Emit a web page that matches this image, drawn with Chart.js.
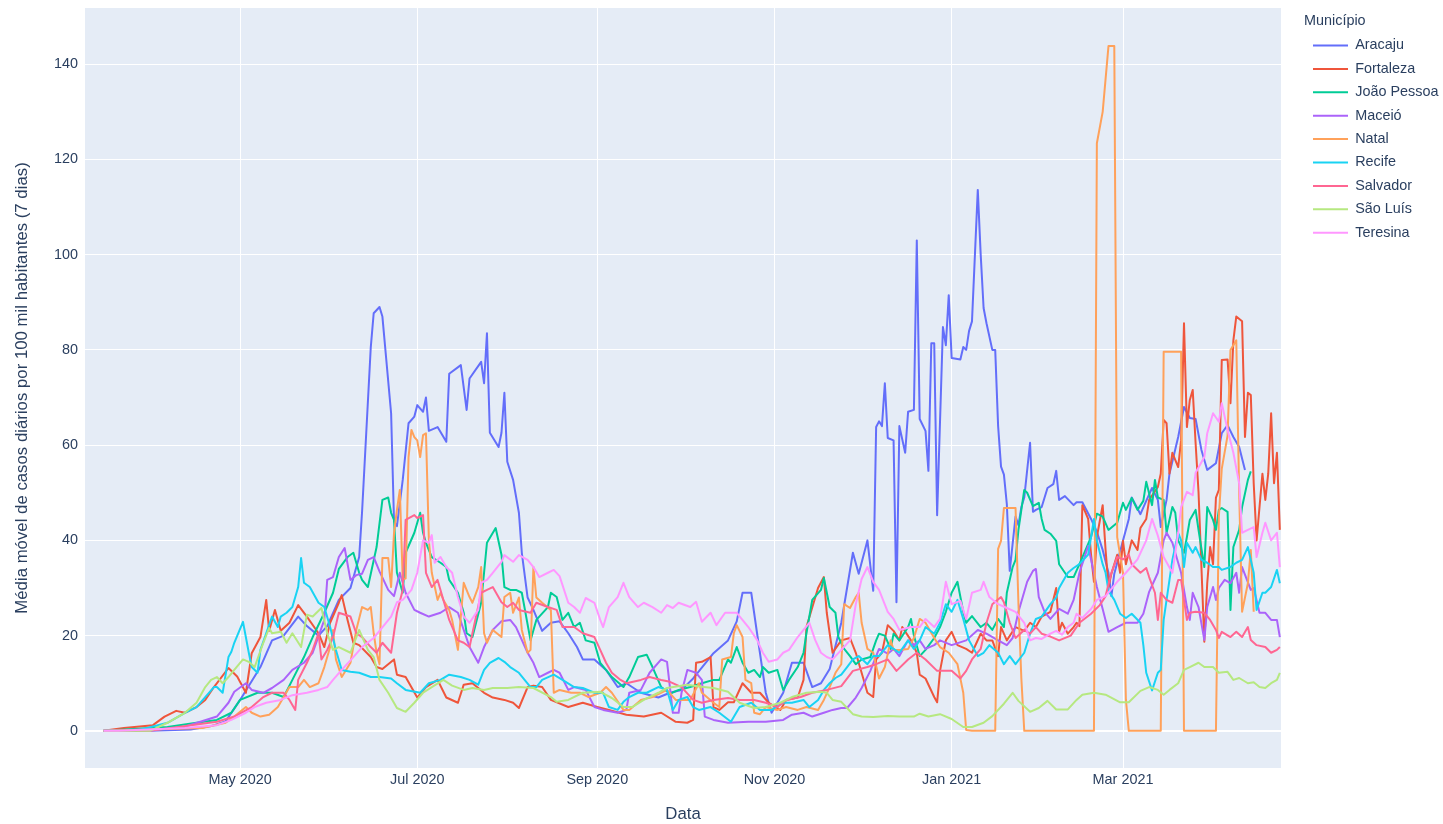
<!DOCTYPE html>
<html>
<head>
<meta charset="utf-8">
<script src="https://cdn.jsdelivr.net/npm/chart.js@4.4.1/dist/chart.umd.min.js"></script>
<style>
  html, body { margin: 0; padding: 0; background: #fff; }
</style>
</head>
<body>
<canvas id="grafico" width="1443" height="824"></canvas>
<script>
// dias contados a partir de 2020-03-01 (dia 0)
const tickDays = [61, 122, 184, 245, 306, 365];
const tickLabels = ['May 2020', 'Jul 2020', 'Sep 2020', 'Nov 2020', 'Jan 2021', 'Mar 2021'];
const yTicks = [0, 20, 40, 60, 80, 100, 120, 140];

const municipios = ['Aracaju', 'Fortaleza', 'João Pessoa', 'Maceió', 'Natal', 'Recife', 'Salvador', 'São Luís', 'Teresina'];
const cores = ['#636efa', '#EF553B', '#00cc96', '#ab63fa', '#FFA15A', '#19d3f3', '#FF6692', '#B6E880', '#FF97FF'];

// [dia, média móvel 7 dias por 100 mil hab.]
const aracaju = [[14,0],[30,0],[44,0.3],[51,1],[56,2],[61,6.5],[68,13.4],[72,19],[76,20],[81,24],[84,22],[88,20],[91,22],[95,27.5],[99,30],[102,36.5],[103,46],[106,80.6],[107,87.7],[109,89],[110,87],[113,66.7],[114,44],[115,43],[117,52.7],[119,64.6],[121,66],[122,68.4],[124,67],[125,70],[126,63],[129,63.8],[132,60.7],[133,75],[137,76.8],[139,67.4],[140,74],[144,77.5],[145,73],[146,83.5],[147,62.6],[150,59.6],[151,62.6],[152,71],[153,56.5],[155,52.7],[157,45.8],[158,37.4],[160,28],[162,25.4],[165,21],[168,22.7],[171,23],[174,20.5],[177,17.6],[179,15],[183,15],[187,12.8],[191,9.2],[194,10],[199,8],[205,7],[209,8],[213,8.6],[217,11],[224,16.3],[229,19],[232,23],[234,29],[237,29],[239,20.5],[242,8],[244,3.8],[248,8],[251,14.3],[255,14.3],[258,9.2],[261,10],[264,13],[268,22.7],[272,37.4],[274,33],[277,40],[279,29.4],[280,63.8],[281,65],[282,64],[283,73],[284,61.5],[286,61],[287,27],[288,64],[290,58.4],[291,67],[293,67.4],[294,103],[295,65.5],[297,63],[298,54.6],[299,81.4],[300,81.4],[301,45.3],[303,84.8],[304,81],[305,91.5],[306,78.3],[309,78],[310,80.6],[311,80],[312,84],[313,86],[315,113.6],[316,100],[317,88.8],[318,85.6],[320,80],[321,80],[322,64],[323,55.5],[324,53.8],[325,47.6],[326,33.6],[328,45],[329,43.2],[330,47],[331,49],[333,60.5],[334,46],[335,46.4],[337,47],[339,51],[341,51.8],[342,54.6],[343,48.5],[345,49.3],[348,47.4],[349,48],[351,48],[354,44.5],[356,41.8],[358,38],[360,33.2],[361,28.3],[362,33],[365,40],[367,44.5],[368,49],[371,45.5],[373,48.3],[375,51],[377,48.5],[378,42.8],[380,48.5],[381,54],[384,61.7],[386,68],[388,65.7],[390,65.5],[392,59],[394,54.8],[397,56.2],[399,62.5],[401,64.2],[403,61.7],[405,59.6],[407,54.8]];

const fortaleza = [[14,0],[21,0.6],[31,1.2],[35,3],[39,4.2],[42,3.8],[46,5],[49,6.5],[52,9.2],[57,13.2],[60,11.4],[63,8],[65,16.3],[68,19.7],[70,27.5],[71,21],[73,25.4],[75,21],[78,22.7],[81,26.4],[84,24],[88,20.5],[90,17.6],[92,22.7],[95,26.9],[96,28.5],[98,23.3],[100,18.5],[102,18],[106,15.5],[108,13.4],[110,13],[114,15],[115,11.8],[118,11.3],[122,7],[125,9.2],[129,10.7],[132,7],[136,5.9],[138,9.7],[141,10],[145,8],[148,7],[152,6.5],[155,5.9],[157,4.8],[160,9.2],[162,9.5],[165,9.2],[168,6.5],[174,5],[179,5.9],[184,5],[188,4.4],[194,3.4],[200,3],[206,3.8],[211,1.9],[215,1.7],[217,2.3],[218,14.3],[220,14.5],[223,15.5],[224,5],[226,4.4],[229,6],[231,6],[234,10],[237,8],[240,8],[243,5.9],[247,4.4],[249,6.5],[253,7],[255,10.7],[256,21.8],[260,30],[262,32.3],[263,24.8],[264,20.5],[265,16.4],[268,19],[271,19.5],[273,16.4],[277,8],[279,7.1],[280,15],[282,16.4],[284,22.2],[286,21],[288,19],[289,21.8],[292,19],[294,16.4],[295,11.8],[297,11],[300,7.1],[301,6],[302,12.6],[304,19],[306,20.8],[308,18],[311,17.2],[313,16.4],[316,20.4],[318,19],[320,19],[322,15.7],[323,21.8],[325,19],[328,21.8],[331,21],[333,22.7],[335,21.8],[337,24],[340,25],[342,30],[343,20.8],[344,22.7],[346,20.4],[348,21.8],[349,22.7],[350,22],[351,47.4],[353,44.5],[354,37],[355,31.3],[356,40.7],[358,47.4],[359,38],[360,30.2],[361,33],[363,37],[364,33.2],[365,39.9],[366,35],[368,40],[370,38],[371,42.6],[373,44.5],[374,48.5],[377,51.2],[378,54],[379,65.3],[380,64.6],[381,54],[382,58.4],[384,55.4],[385,61],[386,85.6],[387,63.8],[388,69.5],[389,71.6],[390,60.4],[391,50.2],[392,34.4],[393,18.7],[394,31],[395,38.6],[396,35],[397,49],[398,50.6],[399,77.9],[401,78],[402,68.8],[403,82],[404,87],[406,86],[407,61.7],[408,71],[409,70.5],[410,52],[411,40],[413,54],[414,48.5],[415,54],[416,66.7],[417,52],[418,58.4],[419,42.2]];

const joaoPessoa = [[14,0],[36,0.8],[46,1.7],[53,2.3],[58,3.8],[61,6.5],[67,8],[72,8],[76,7.1],[79,10.7],[83,15.5],[86,19.7],[90,24.8],[93,29],[95,34],[98,36.5],[100,37.4],[102,33.2],[103,31.7],[105,30.2],[106,33],[108,38.6],[110,48.5],[112,49],[113,45.8],[114,44.3],[115,33.2],[117,29],[118,37.4],[121,41.6],[123,45.8],[124,41.6],[125,39.5],[127,36.5],[130,35.3],[132,34.4],[133,31.7],[136,29],[138,24.8],[139,20.5],[141,19.7],[144,26.9],[146,39.5],[149,42.6],[151,37],[152,30.2],[154,29.6],[156,29.6],[158,29],[161,19],[163,23.3],[167,26],[168,29],[170,28.1],[172,23.3],[174,24.8],[176,21.8],[178,22.7],[180,19],[183,18.5],[185,14.3],[187,12.8],[189,11.3],[193,9.2],[195,11.3],[198,15.5],[201,16],[203,13.4],[206,9.2],[209,7.8],[212,8.6],[216,9.2],[220,10],[224,10.7],[226,10.7],[229,15],[230,14.3],[232,17.6],[234,14.3],[236,12.2],[238,12.8],[240,11.3],[241,13.4],[243,12.2],[246,12.8],[248,8.6],[250,10.7],[253,13.4],[255,16.4],[256,20.5],[258,27.5],[261,29.6],[262,32.1],[264,26],[266,24.8],[267,19.7],[269,17.2],[271,15.7],[273,14],[275,15],[278,15.5],[280,19],[281,20.4],[283,20],[285,17.2],[286,20.4],[288,19],[291,21.8],[292,23.5],[293,20],[295,15.7],[297,17],[300,19.5],[302,21.8],[304,25],[306,29],[308,31.3],[310,25],[311,22.7],[313,24.1],[316,21.8],[318,22.7],[320,21.2],[322,23.5],[324,21.8],[325,29],[327,34.4],[328,35.9],[329,42.2],[331,50.6],[332,50],[334,47.2],[336,47.9],[337,44.5],[338,42.2],[340,41.4],[342,39.9],[343,35],[346,32.3],[348,32.3],[350,35],[354,40.7],[356,45.6],[358,45],[360,42.2],[363,43.7],[365,47.9],[366,46.4],[368,48.9],[370,46.4],[372,48.3],[373,52.3],[375,47.4],[376,52.7],[377,49],[379,48.5],[380,41.6],[382,47],[383,45.8],[384,40],[386,37.4],[387,40.7],[388,44.3],[390,46.4],[391,42.2],[393,34.4],[394,47],[396,44.3],[397,42.2],[398,46.4],[399,46.8],[401,46],[402,25.4],[403,38.6],[405,42.2],[406,47],[408,52.7],[409,54.5]];

const maceio = [[14,0],[40,0.5],[53,3],[57,5.9],[59,8.2],[63,10],[65,8.6],[69,8],[72,9],[76,10.7],[79,12.8],[83,14.3],[86,16.4],[90,23.3],[91,31.7],[93,32.3],[95,36.5],[97,38.4],[99,31.7],[101,32.7],[103,33],[105,35.9],[107,36.5],[109,33.5],[112,29.6],[114,28.3],[116,33.2],[118,29],[121,25.4],[123,24.8],[126,24],[130,24.8],[133,26],[136,24.8],[138,21.2],[140,17.6],[143,14.3],[145,17.6],[148,21.2],[151,23],[154,23.3],[156,21.8],[160,16.4],[162,14.3],[164,11.3],[167,12.2],[169,12.8],[171,12.2],[174,8.6],[176,9.2],[180,8.6],[183,5],[186,4.4],[191,3.8],[194,4.4],[195,8],[199,8.6],[202,12.2],[206,15],[208,14.5],[210,3.8],[212,3.8],[213,8],[215,12.8],[218,12.2],[220,10.7],[221,3],[224,2.3],[229,1.7],[236,1.9],[242,1.9],[248,2.3],[251,3.4],[255,3.8],[258,3],[262,3.8],[265,4.4],[268,4.8],[270,4.8],[273,7],[275,9],[278,12.6],[280,15.7],[281,17.2],[284,16.2],[286,17.2],[288,15.7],[291,19],[293,18],[295,19],[297,17.2],[300,18],[302,19],[306,18],[311,19],[315,21.2],[318,20.4],[322,19],[325,18],[327,19.5],[329,25],[332,31.3],[334,33.6],[335,34],[336,28.1],[338,25],[340,23.5],[343,25.6],[346,24.6],[348,27.5],[350,33.2],[353,38.8],[354,36],[356,30.2],[358,25.6],[360,20.8],[363,21.8],[366,22.7],[370,22.7],[372,24.6],[374,29.2],[377,33.2],[379,40],[380,41.6],[382,39.5],[384,35.3],[385,33.2],[387,26],[388,23.3],[389,29],[391,26],[393,19.1],[394,26],[396,30.2],[397,27.5],[398,30],[400,31.7],[402,31],[404,33.2],[405,29],[406,34.4],[409,29.6],[410,30],[412,24.8],[414,24.8],[416,23.3],[418,23.3],[419,19.7]];

const natal = [[14,0],[48,0.6],[56,1.7],[59,3],[63,5],[65,3.8],[68,3],[71,3.4],[74,5],[76,7.1],[78,9.2],[81,9.2],[83,10.7],[85,9.2],[88,10],[90,13.4],[92,17.6],[93,21.2],[94,15],[96,11.3],[99,14.3],[101,21.2],[103,26],[105,25.4],[106,26],[107,20.5],[108,16.4],[109,14],[110,36.3],[112,36.3],[113,30.2],[114,41.6],[115,46.4],[116,50.6],[117,31.7],[118,32],[119,57.5],[120,63.2],[121,61.7],[122,61],[123,57.5],[124,62.1],[125,62.5],[126,40],[127,33.2],[129,27.5],[130,29],[131,27.5],[133,25.4],[134,23.3],[136,17],[138,31.1],[140,28.1],[141,26.9],[143,30.2],[144,34.4],[145,20.5],[146,18.5],[148,21.2],[151,19.7],[152,28.1],[154,29],[155,24.8],[157,28],[158,21.2],[160,16.4],[161,17],[162,34.4],[163,28],[165,26.9],[168,25.4],[169,8],[171,8.6],[175,8],[178,8],[181,7.1],[185,8],[187,9.2],[189,8],[193,4.4],[195,4.4],[199,6.5],[203,7.1],[208,8.6],[211,6.5],[216,6.5],[219,10],[220,8],[224,5.9],[226,5],[227,15],[230,15.5],[231,20.5],[232,22.2],[234,19.7],[235,10.7],[237,10],[238,3.8],[240,3.5],[242,5],[246,4.4],[249,5],[253,4.4],[256,5],[260,4.4],[262,6.5],[264,9.2],[266,12.2],[268,14],[269,26.6],[271,25.8],[273,28.1],[274,29],[275,22.7],[277,17.2],[279,16.4],[281,11],[283,13.4],[285,19],[286,17],[288,17],[291,17.2],[293,19.5],[295,23.5],[297,22.7],[300,19.5],[302,17.6],[305,16.4],[308,14],[310,8],[311,0.2],[313,0],[321,0],[322,38.2],[323,39.9],[324,46.8],[328,46.8],[329,26.6],[330,11],[331,0],[355,0],[356,123.4],[358,130],[360,143.8],[362,143.8],[363,40.7],[365,33.2],[366,6.5],[367,0],[378,0],[379,79.6],[385,79.6],[386,0],[397,0],[398,45],[399,55],[401,62],[402,80],[404,82],[405,50],[406,25],[408,31],[409,38],[410,25]];

const recife = [[14,0],[25,0],[36,1.7],[42,3.8],[46,5],[49,7.1],[52,9.2],[53,9.2],[55,8],[57,15.5],[58,16.6],[59,18.5],[62,22.9],[64,16.4],[65,13.4],[67,12.2],[68,17],[70,20.5],[72,24],[74,21.8],[75,24],[77,24.8],[79,26],[81,30.2],[82,36.3],[83,31.1],[85,30.2],[88,26.9],[90,26],[92,21.8],[94,17],[96,12.8],[99,12.4],[102,12.2],[106,11.3],[109,11.3],[113,11],[115,10],[118,8.6],[123,8],[126,10],[130,10.7],[133,11.8],[137,11.3],[140,10.7],[143,9.7],[145,12.8],[147,14.3],[150,15.3],[152,14.5],[154,13.4],[157,12.2],[161,9.2],[163,9.2],[165,10.7],[169,11.8],[172,10.7],[176,9.2],[179,9],[183,8],[186,8],[188,5],[191,4.4],[193,6.1],[195,7.1],[198,8],[201,8],[205,9.2],[208,8.6],[210,4.4],[212,6.5],[215,7.1],[217,5],[219,4.4],[223,5],[226,3.8],[230,1.9],[233,5],[237,5.9],[240,4.4],[244,4.4],[248,5.9],[251,5.9],[255,6.5],[257,5],[260,6.5],[262,8.6],[264,10],[266,11.1],[268,11.8],[270,13.4],[272,15],[274,15.7],[277,14],[279,15.7],[281,15.7],[284,18],[286,17.2],[288,16.4],[291,19],[293,17.2],[295,19],[297,21.8],[300,20.4],[302,22.7],[304,26.6],[306,25],[308,27.5],[310,23.5],[312,19],[315,15.7],[317,16.4],[319,18],[322,16.4],[324,14],[326,15.7],[328,14],[331,16.4],[333,20.4],[335,23.5],[337,24],[340,26.6],[342,28],[343,30],[346,33.2],[348,34.2],[350,35],[353,37],[354,40.7],[355,44.5],[356,40],[358,35],[359,33.2],[360,29.4],[362,27.5],[364,24.6],[366,23.7],[368,24.6],[371,22.7],[372,18],[373,12.2],[375,8.5],[377,12.2],[378,12.8],[379,23.3],[381,31.7],[382,35.9],[384,41.6],[385,40],[386,34.4],[387,39.5],[389,37.4],[390,38.6],[392,35.9],[394,35.3],[396,34.4],[398,34.4],[399,33.8],[402,34.4],[404,35.3],[406,35.9],[408,38.6],[410,33.2],[411,25.4],[413,29],[414,29],[416,30.2],[418,33.8],[419,31]];

const salvador = [[14,0],[30,0],[53,1.9],[59,3],[65,5],[69,7.1],[72,8],[76,8],[78,6.5],[80,4.4],[81,10.7],[84,14.3],[86,17],[88,20.5],[89,15],[91,17],[93,19.7],[95,24.8],[99,24],[101,20.5],[103,19.7],[106,17.6],[108,16.4],[110,18.5],[113,16.4],[115,24.8],[117,29.6],[118,44.3],[121,45.3],[122,44.7],[124,45.3],[125,33.2],[127,30.2],[129,31.7],[131,27.5],[133,23.3],[136,19],[138,18.5],[140,17.6],[141,20.5],[144,29],[146,29.6],[148,30.2],[151,27],[153,26],[155,26.9],[157,25.4],[161,24.8],[163,26.9],[167,26],[170,25.4],[172,21.8],[176,21.8],[179,20.5],[183,19.7],[185,17],[187,14.3],[189,12.2],[192,10.7],[194,10],[199,10.7],[202,11.3],[206,10.7],[209,10.3],[213,9.2],[217,6.5],[220,5.9],[224,6.5],[229,6.9],[233,6.5],[238,6.5],[242,5.9],[246,5],[249,6.5],[254,7.1],[258,8],[263,8.6],[268,9.4],[272,12.6],[277,13.4],[280,14],[284,15],[287,12.6],[291,15],[294,16.4],[297,15],[301,12.6],[304,12.6],[306,12.6],[309,11],[311,12.6],[313,15],[316,17.2],[318,22.7],[320,26.6],[323,28.1],[324,27],[326,22.7],[328,19.5],[331,21.2],[333,20.4],[335,21.8],[337,20.4],[340,19.8],[343,19],[347,20],[350,22.7],[354,24.6],[357,26.4],[359,28.3],[361,33.2],[363,36.5],[365,36],[367,37],[368,35],[371,33.2],[373,34.2],[374,32.3],[376,29],[377,23.3],[378,29],[380,27.5],[382,26.9],[384,31.7],[385,31.7],[386,27.5],[387,23.3],[388,24.8],[390,25],[393,24.8],[395,23.3],[397,21.2],[398,19.5],[399,20.8],[402,19.7],[404,20.8],[406,19.7],[408,21.8],[409,19.1],[411,18],[414,17.6],[416,16.4],[418,17],[419,17.6]];

const saoLuis = [[14,0],[30,0],[36,1.7],[42,3.8],[46,5.9],[49,9.2],[51,10.7],[53,11.3],[55,10],[57,11.3],[59,12.8],[62,15],[64,14.5],[66,13.4],[69,18.5],[71,21.6],[72,20.5],[75,20.8],[77,18.5],[79,20.5],[82,17.6],[84,24.4],[86,24],[89,25.8],[91,20.5],[93,17],[95,17.6],[99,16.4],[102,21.2],[105,17],[107,15.5],[109,10.7],[112,8],[115,4.8],[118,4],[121,5.9],[124,8],[127,9.2],[131,10.7],[134,9.5],[138,8.6],[141,9],[145,8.6],[148,9],[153,9],[157,9.2],[162,9],[168,7.1],[170,6.1],[174,6.5],[179,8],[185,8.2],[189,6.9],[193,5],[196,5],[200,6.5],[205,8],[208,9],[215,9.7],[219,9.3],[224,9],[229,8.2],[233,5.9],[238,4.8],[242,5],[247,5.9],[251,7.1],[256,8],[261,8.2],[263,8],[265,6.5],[268,6.1],[270,4.8],[272,3.5],[275,3],[279,2.9],[284,3.1],[288,3],[293,3],[295,3.6],[298,3],[302,3.5],[306,2.5],[310,0.8],[313,0.8],[317,1.7],[320,3.1],[324,5.7],[327,8],[329,6.3],[333,4],[336,4.8],[339,6.3],[342,4.5],[346,4.5],[349,6.5],[351,7.6],[355,8],[359,7.6],[364,6],[367,6],[371,8.4],[374,9.2],[377,8.6],[379,7.6],[381,8.6],[384,10],[386,12.8],[388,13.4],[391,14.3],[393,13.4],[396,13.4],[398,12.2],[401,12.4],[403,10.7],[405,11.1],[408,10],[410,10.2],[412,9.2],[414,9],[416,10],[418,10.7],[419,12.2]];

const teresina = [[14,0],[19,0],[42,0.6],[53,1.2],[58,2.3],[63,3.8],[66,5],[70,5.9],[75,6.5],[79,7.5],[84,8],[88,8.6],[91,9.2],[93,10.7],[96,12.8],[100,15.5],[103,17.6],[107,19.5],[109,21],[113,24],[115,27],[117,27.5],[120,29.6],[122,33.2],[124,40],[126,39.5],[127,41.1],[128,35.3],[130,36.5],[132,34.4],[134,33.2],[136,28.1],[138,24],[140,22.7],[143,25.4],[144,31.1],[146,31.7],[148,33.2],[151,35.5],[152,36.9],[155,35.5],[157,36.9],[160,35.9],[162,34.4],[164,32.3],[167,33.2],[169,33.8],[171,32.5],[174,26.9],[176,26],[178,24.8],[180,27.9],[183,26.9],[185,23.3],[186,21.8],[188,26],[191,28.1],[193,31.1],[195,28.1],[198,26],[200,26.9],[203,26],[206,24.8],[208,26.4],[210,25.8],[212,26.9],[216,26],[218,27.1],[220,22.9],[223,24.8],[225,22.2],[228,24.8],[232,24.8],[236,21.8],[239,19.1],[241,16.4],[243,14.5],[246,15],[248,16.4],[250,17],[253,19.7],[255,21.2],[257,22.7],[259,19.1],[261,16.4],[263,15.5],[265,15],[268,17],[271,19],[273,26.6],[275,31.9],[277,34.4],[279,31.3],[281,29.6],[284,25],[286,23.5],[288,21.2],[292,21.8],[295,21.8],[297,23.5],[300,21.8],[302,23.5],[304,31.3],[306,26.6],[309,27.3],[311,23.5],[313,29],[316,29.6],[317,31.3],[319,28.1],[322,26.6],[325,25.8],[328,25],[331,22.7],[333,19],[335,19.5],[337,19.3],[340,20.4],[342,21],[344,20.2],[346,21.8],[348,22.7],[349,24.6],[351,23.7],[354,25.6],[356,27.5],[359,28.3],[363,31.3],[366,33.2],[370,36],[373,40],[375,44.5],[377,41],[379,36.5],[382,33.2],[384,41.6],[385,47],[387,50.2],[389,49.5],[390,54.2],[393,57.5],[394,62.5],[396,66.7],[398,64.9],[399,68.8],[401,63.2],[403,58.4],[405,52],[406,41.6],[408,42.2],[410,42.8],[411,36.5],[413,41.6],[414,43.7],[416,40],[418,41.6],[419,34.4]];

const series = [aracaju, fortaleza, joaoPessoa, maceio, natal, recife, salvador, saoLuis, teresina];

const corTexto = '#2a3f5f';
const fonte = '"Liberation Sans", Arial, sans-serif';
const direitaPlot = 1281;   // borda direita da área do gráfico
const legendaX = 1304;
const legendaY = 14;

// fundo da área do gráfico (estilo plotly)
const fundoPlot = {
    id: 'fundoPlot',
    beforeDraw(chart) {
        const { ctx, chartArea: a } = chart;
        ctx.save();
        ctx.fillStyle = '#e5ecf6';
        ctx.fillRect(a.left, a.top, a.right - a.left, a.bottom - a.top);
        ctx.restore();
    }
};

// posiciona a legenda como no original
const posLegenda = {
    id: 'posLegenda',
    afterLayout(chart) {
        const lg = chart.legend;
        if (!lg) return;
        const dx = legendaX - lg.left;
        const dy = legendaY - lg.top;
        lg.left += dx; lg.right += dx;
        lg.top += dy; lg.bottom += dy;
    }
};

const datasets = series.map((pontos, i) => ({
    label: municipios[i],
    data: pontos.map(([d, v]) => ({ x: d, y: v })),
    borderColor: cores[i],
    backgroundColor: cores[i],
    borderWidth: 2,
    pointRadius: 0,
    borderJoinStyle: 'round',
    tension: 0,
    order: series.length - i
}));

const grafico = new Chart(document.getElementById('grafico').getContext('2d'), {
    type: 'line',
    data: { datasets },
    plugins: [fundoPlot, posLegenda],
    options: {
        responsive: false,
        animation: false,
        events: [],
        parsing: false,
        layout: { padding: { top: 8, right: 0, bottom: 0, left: 0 } },
        scales: {
            x: {
                type: 'linear',
                min: 7.6,
                max: 419.4,
                afterBuildTicks: s => { s.ticks = tickDays.map(v => ({ value: v })); },
                afterFit: s => { s.height = 56; },
                grid: { color: '#ffffff', lineWidth: 1, drawTicks: false },
                border: { display: false },
                ticks: {
                    autoSkip: false,
                    maxRotation: 0,
                    padding: 3,
                    color: corTexto,
                    font: { family: fonte, size: 14.4 },
                    callback: v => tickLabels[tickDays.indexOf(v)]
                },
                title: {
                    display: true,
                    text: 'Data',
                    color: corTexto,
                    font: { family: fonte, size: 16.8 },
                    padding: { top: 0, bottom: 0 }
                }
            },
            y: {
                min: -7.8,
                max: 151.8,
                afterBuildTicks: s => { s.ticks = yTicks.map(v => ({ value: v })); },
                afterFit: s => { s.width = 85; s.paddingTop = 0; s.paddingBottom = 0; },
                grid: {
                    color: '#ffffff',
                    lineWidth: c => (c.tick && c.tick.value === 0 ? 2 : 1),
                    drawTicks: false
                },
                border: { display: false },
                ticks: {
                    padding: 7,
                    color: corTexto,
                    font: { family: fonte, size: 14.4 }
                },
                title: {
                    display: true,
                    text: 'Média móvel de casos diários por 100 mil habitantes (7 dias)',
                    color: corTexto,
                    font: { family: fonte, size: 16.8 },
                    padding: { top: 12, bottom: 0 }
                }
            }
        },
        plugins: {
            tooltip: { enabled: false },
            legend: {
                position: 'right',
                align: 'start',
                title: {
                    display: true,
                    text: 'Município',
                    position: 'start',
                    color: corTexto,
                    font: { family: fonte, size: 14.4 },
                    padding: { top: 0, bottom: -2 }
                },
                labels: {
                    usePointStyle: true,
                    pointStyle: 'line',
                    pointStyleWidth: 35,
                    padding: 9,
                    color: corTexto,
                    font: { family: fonte, size: 14.4 },
                    sort: (a, b) => a.datasetIndex - b.datasetIndex
                }
            }
        }
    }
});

// ajusta o espaço da legenda para que a área do gráfico termine em direitaPlot
grafico.options.layout.padding.right = Math.max(0, 1443 - direitaPlot - grafico.legend.width);
grafico.update();
</script>
</body>
</html>
